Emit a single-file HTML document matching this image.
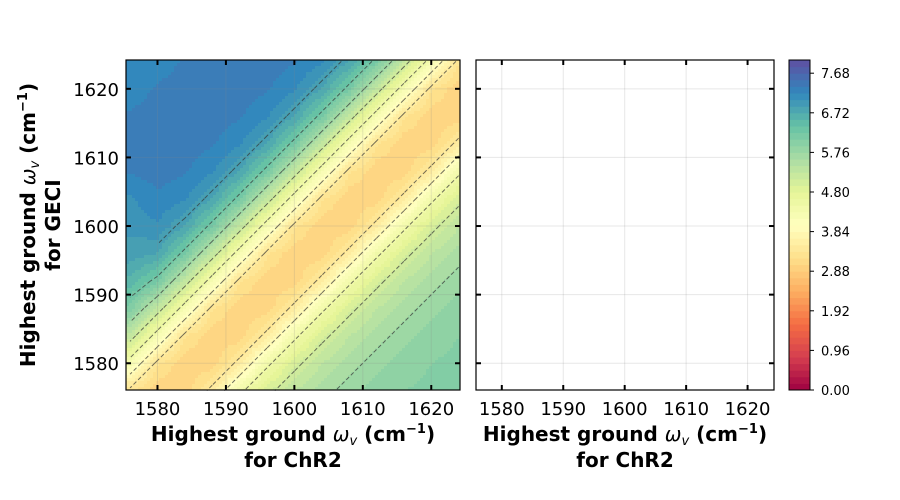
<!DOCTYPE html>
<html><head><meta charset="utf-8"><style>
body{margin:0;background:#fff;}
svg{display:block;font-family:"DejaVu Sans","Liberation Sans",sans-serif;}
</style></head><body>
<svg id="fig" width="900" height="500" viewBox="0 0 900 500">
<g id="heat"></g>
<g id="contours"></g>
<g id="axes"></g>
</svg>
<script>
// ---- data ----
const xCoords = [1576,1580,1584,1588,1592,1596,1600,1604,1608,1612,1616,1620,1624];
const yCoords = [1624,1620,1616,1612,1608,1604,1600,1596,1592,1588,1584,1580,1576];
const gridValues = [
[7.15,7.2,7.3,7.35,7.4,7.35,7.3,7.15,6.8,6.2,5.3,4.3,3.3],
[7.2,7.3,7.35,7.4,7.35,7.3,7.15,6.8,6.2,5.3,4.3,3.3,3.0],
[7.3,7.35,7.4,7.35,7.3,7.15,6.8,6.2,5.3,4.3,3.3,3.0,3.0],
[7.35,7.4,7.35,7.3,7.15,6.8,6.2,5.3,4.3,3.3,3.0,3.0,3.5],
[7.3,7.35,7.3,7.15,6.8,6.2,5.3,4.3,3.3,3.0,3.0,3.5,4.4],
[7.1,7.25,7.15,6.8,6.2,5.3,4.3,3.3,3.0,3.0,3.5,4.4,5.0],
[7.0,7.1,6.8,6.2,5.3,4.3,3.3,3.0,3.0,3.5,4.4,5.0,5.35],
[6.9,6.8,6.2,5.3,4.3,3.3,3.0,3.0,3.5,4.4,5.0,5.35,5.6],
[6.6,6.2,5.3,4.3,3.3,3.0,3.0,3.5,4.4,5.0,5.35,5.6,5.8],
[6.1,5.3,4.3,3.3,3.0,3.0,3.5,4.4,5.0,5.35,5.6,5.8,5.9],
[5.3,4.3,3.3,3.0,3.0,3.5,4.4,5.0,5.35,5.6,5.8,5.9,6.0],
[4.3,3.3,3.0,3.0,3.5,4.4,5.0,5.35,5.6,5.8,5.9,6.0,6.05],
[3.3,3.0,3.0,3.5,4.4,5.0,5.35,5.6,5.8,5.9,6.0,6.05,6.1]
];
const contourLevels = [3.4,3.9,4.5,5.1,5.7,6.3,6.9,7.3];
const xTicks = [1580,1590,1600,1610,1620];
const yTicks = [1580,1590,1600,1610,1620];
const cbarTicks = ["0.00","0.96","1.92","2.88","3.84","4.80","5.76","6.72","7.68"];

const NS="http://www.w3.org/2000/svg";
const L={x0:126,x1:460,y0:60,y1:390}, R={x0:476,x1:774};
const dMin=1575.4,dMax=1624.2, yMin=1576.1,yMax=1624.2;
const xs=v=>L.x0+(v-dMin)/(dMax-dMin)*(L.x1-L.x0);
const xr=v=>R.x0+(v-1575.8)/(1624.3-1575.8)*(R.x1-R.x0);
const ys=v=>L.y1-(v-yMin)/(yMax-yMin)*(L.y1-L.y0);
const vMax=8.0;
const stops=["#9e0142","#d53e4f","#f46d43","#fdae61","#fee08b","#ffffbf","#e6f598","#abdda4","#66c2a5","#3288bd","#5e4fa2"];
function hex(h){return [1,3,5].map(i=>parseInt(h.substr(i,2),16));}
function cmap(v){let t=Math.max(0,Math.min(1,v/vMax))*10;let i=Math.min(9,Math.floor(t));let f=t-i;
 const a=hex(stops[i]),b=hex(stops[i+1]);return "rgb("+a.map((c,k)=>Math.round(c+(b[k]-c)*f)).join(",")+")";}
function el(tag,attrs,parent){const e=document.createElementNS(NS,tag);for(const k in attrs)e.setAttribute(k,attrs[k]);(parent||document.getElementById('axes')).appendChild(e);return e;}
function sample(x,y){
 let fx=(x-xCoords[0])/4, fy=(yCoords[0]-y)/4;
 fx=Math.max(0,Math.min(12,fx)); fy=Math.max(0,Math.min(12,fy));
 let j=Math.min(11,Math.floor(fx)), i=Math.min(11,Math.floor(fy)); let a=fx-j,b=fy-i;
 return gridValues[i][j]*(1-a)*(1-b)+gridValues[i][j+1]*a*(1-b)+gridValues[i+1][j]*(1-a)*b+gridValues[i+1][j+1]*a*b;}
const heat=document.getElementById('heat');
const step=3;
for(let py=L.y0;py<L.y1;py+=step){for(let px=L.x0;px<L.x1;px+=step){
 const vx=dMin+(px+step/2-L.x0)/(L.x1-L.x0)*(dMax-dMin);
 const vy=yMin+(L.y1-(py+step/2))/(L.y1-L.y0)*(yMax-yMin);
 const q=Math.round(sample(vx,vy)/0.16)*0.16;
 const r=el('rect',{x:px,y:py,width:Math.min(step+0.5,L.x1-px),height:Math.min(step+0.5,L.y1-py),fill:cmap(q)},heat);
 
 
}}
const cg=document.getElementById('contours');
contourLevels.forEach(lev=>{
 let d="";
 for(let i=0;i<12;i++)for(let j=0;j<12;j++){
  const c=[[i,j],[i,j+1],[i+1,j+1],[i+1,j]];
  const pts=[];
  for(let e=0;e<4;e++){const p=c[e],q=c[(e+1)%4];const va=gridValues[p[0]][p[1]],vb=gridValues[q[0]][q[1]];
   if((va-lev)*(vb-lev)<0){const t=(lev-va)/(vb-va);
    const X=xCoords[p[1]]+(xCoords[q[1]]-xCoords[p[1]])*t, Y=yCoords[p[0]]+(yCoords[q[0]]-yCoords[p[0]])*t;
    pts.push([xs(X),ys(Y)]);}}
  for(let k=0;k+1<pts.length;k+=2)d+="M"+pts[k][0].toFixed(1)+","+pts[k][1].toFixed(1)+"L"+pts[k+1][0].toFixed(1)+","+pts[k+1][1].toFixed(1);
 }
 const p=el('path',{d:d,stroke:"#333",'stroke-opacity':0.7,'stroke-width':1,'stroke-dasharray':"4,2.5",fill:"none"},cg);
 
 
});
const TITLE='Highest ground <tspan font-style="italic" font-weight="normal">ω</tspan><tspan font-style="italic" font-weight="normal" font-size="13" dy="4">v</tspan><tspan dy="-4"> (cm</tspan><tspan font-size="13" dy="-8">−1</tspan><tspan dy="8">)</tspan>';
function panel(x0,x1,xf,name){
 xTicks.forEach(t=>{const X=xf(t);
  const g=el('line',{x1:X,x2:X,y1:L.y0,y2:L.y1,stroke:"#888",'stroke-opacity':0.2,'stroke-width':1});
  
  el('line',{x1:X,x2:X,y1:L.y1,y2:L.y1-5,stroke:"#000",'stroke-width':2});
  el('line',{x1:X,x2:X,y1:L.y0,y2:L.y0+5,stroke:"#000",'stroke-width':2});
  const tl=el('text',{x:X,y:L.y1+25,'text-anchor':'middle','font-size':18,fill:'#000'});tl.textContent=t;
  
 });
 yTicks.forEach(t=>{const Y=ys(t);
  const g=el('line',{x1:x0,x2:x1,y1:Y,y2:Y,stroke:"#888",'stroke-opacity':0.2,'stroke-width':1});
  
  el('line',{x1:x0,x2:x0+5,y1:Y,y2:Y,stroke:"#000",'stroke-width':2});
  el('line',{x1:x1,x2:x1-5,y1:Y,y2:Y,stroke:"#000",'stroke-width':2});
 });
 const b=el('rect',{x:x0,y:L.y0,width:x1-x0,height:L.y1-L.y0,fill:'none',stroke:'#000','stroke-width':1.2});
 
 const t1=el('text',{x:(x0+x1)/2,y:441,'text-anchor':'middle','font-size':20,'font-weight':'bold'});
 t1.innerHTML=TITLE;
 
 const t2=el('text',{x:(x0+x1)/2,y:467,'text-anchor':'middle','font-size':20,'font-weight':'bold'});t2.textContent='for ChR2';
 
}
panel(L.x0,L.x1,xs,'heatmap-panel');
panel(R.x0,R.x1,xr,'empty-panel');
yTicks.forEach(t=>{const tl=el('text',{x:L.x0-7,y:ys(t)+7,'text-anchor':'end','font-size':18});tl.textContent=t;
 });
const yt=el('text',{transform:'translate(35,225) rotate(-90)','text-anchor':'middle','font-size':20,'font-weight':'bold'});
yt.innerHTML=TITLE;

const yt2=el('text',{transform:'translate(60,225) rotate(-90)','text-anchor':'middle','font-size':20,'font-weight':'bold'});yt2.textContent='for GECI';

const cb={x:789,w:21,y0:60,y1:390};
const cbs=v=>cb.y1-v/vMax*(cb.y1-cb.y0);
for(let k=0;k<50;k++){const v0=k*vMax/50,v1=(k+1)*vMax/50;
 const r=el('rect',{x:cb.x,y:cbs(v1),width:cb.w,height:cbs(v0)-cbs(v1)+0.5,fill:cmap((v0+v1)/2)});
 }
const cbo=el('rect',{x:cb.x,y:cb.y0,width:cb.w,height:cb.y1-cb.y0,fill:'none',stroke:'#000','stroke-width':1});

cbarTicks.forEach(s=>{const Y=cbs(parseFloat(s));
 el('line',{x1:cb.x+cb.w,x2:cb.x+cb.w+4,y1:Y,y2:Y,stroke:'#000','stroke-width':1});
 const t=el('text',{x:cb.x+cb.w+11,y:Y+5,'font-size':13});t.textContent=s;
 });
</script>
</body></html>
